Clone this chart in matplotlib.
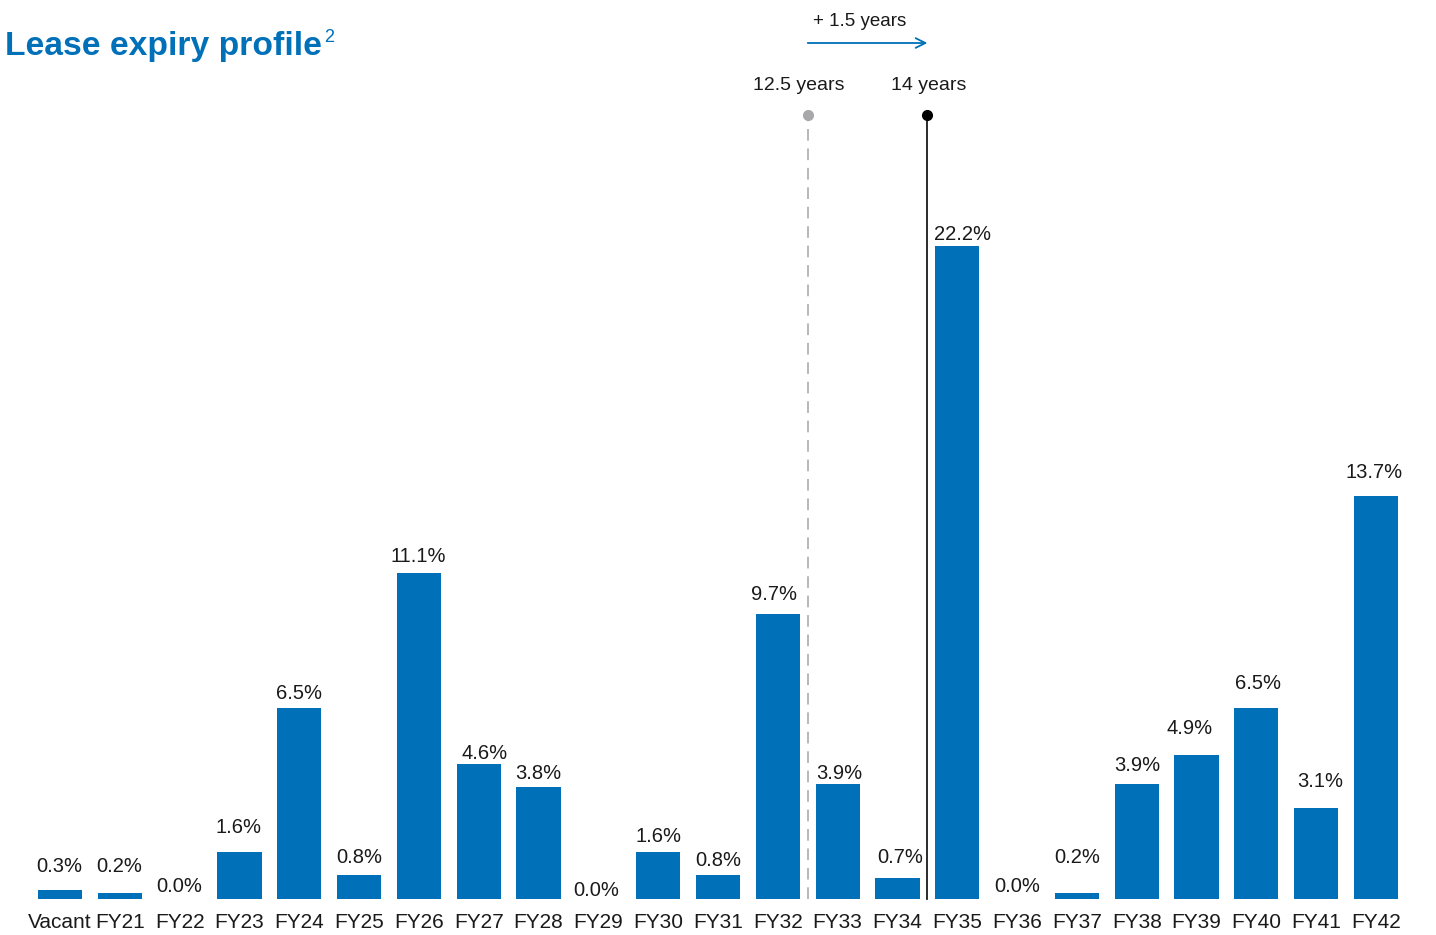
import matplotlib
matplotlib.use("Agg")
import matplotlib.pyplot as plt

categories = ["Vacant", "FY21", "FY22", "FY23", "FY24", "FY25", "FY26", "FY27", "FY28",
              "FY29", "FY30", "FY31", "FY32", "FY33", "FY34", "FY35", "FY36", "FY37",
              "FY38", "FY39", "FY40", "FY41", "FY42"]
values = [0.3, 0.2, 0.0, 1.6, 6.5, 0.8, 11.1, 4.6, 3.8, 0.0, 1.6, 0.8, 9.7, 3.9, 0.7,
          22.2, 0.0, 0.2, 3.9, 4.9, 6.5, 3.1, 13.7]
labels = ["0.3%", "0.2%", "0.0%", "1.6%", "6.5%", "0.8%", "11.1%", "4.6%", "3.8%", "0.0%",
          "1.6%", "0.8%", "9.7%", "3.9%", "0.7%", "22.2%", "0.0%", "0.2%", "3.9%", "4.9%",
          "6.5%", "3.1%", "13.7%"]
wale_before = 12.5
wale_after = 14.0

# label gap above each bar, in pixels (layout only)
label_gap_px = [24, 27, 13, 24, 14, 18, 16, 10, 14, 9, 15, 15, 19, 11, 21, 12, 13, 36,
                19, 26, 24, 26, 24]
label_dx_px = [-1, -1, 0, -1, 0, 0, -1, 6, 0, -2, 0, 0, -4, 2, 3, 5, 0, 0, 1, -7, 2, 4, -2]

BLUE = "#0070B8"
TEXT = "#1a1a1a"
plt.rcParams["font.family"] = ["Liberation Sans", "DejaVu Sans"]

W, H = 1436, 935
fig = plt.figure(figsize=(W / 100, H / 100), dpi=100)
ax = fig.add_axes([0, 0, 1, 1])
PX_X = 59.82   # pixels per category
PX_Y = 29.4    # pixels per percent
ax.set_xlim(-60 / PX_X, 22 + (W - 1376) / PX_X)
ax.set_ylim(-(H - 899) / PX_Y, 899 / PX_Y)
ax.axis("off")

x = list(range(len(categories)))
ax.bar(x, values, width=0.74, color=BLUE, zorder=2)

for xi, v, lab, cat, g, dx in zip(x, values, labels, categories, label_gap_px, label_dx_px):
    ax.text(xi + dx / PX_X, v + g / PX_Y, lab, ha="center", va="center", fontsize=14.5,
            color=TEXT)
    ax.text(xi, -23.5 / PX_Y, cat, ha="center", va="center", fontsize=15, color=TEXT)

# WALE markers: x position is the years value mapped onto the category axis
wale_before_x = wale_before
wale_after_x = wale_after + 0.5
line_top = (899 - 115) / PX_Y
ax.plot([wale_before_x, wale_before_x], [0, line_top], color="#b8b8b8", lw=1.4,
        dashes=(6, 4), zorder=1)
ax.plot([wale_before_x], [line_top], "o", color="#a8a8aa", ms=7, zorder=3)
ax.plot([wale_after_x, wale_after_x], [0, line_top], color="#1a1a1a", lw=1.3, zorder=3)
ax.plot([wale_after_x], [line_top], "o", color="#000000", ms=7, zorder=4)

ax.text(wale_before_x - 9 / PX_X, (899 - 86) / PX_Y, f"{wale_before:g} years",
        ha="center", va="center", fontsize=14, color=TEXT)
ax.text(wale_after_x + 1 / PX_X, (899 - 86) / PX_Y, f"{wale_after:g} years",
        ha="center", va="center", fontsize=14, color=TEXT)

ax.annotate("", xy=(wale_after_x, (899 - 43) / PX_Y), xytext=(wale_before_x, (899 - 43) / PX_Y),
            arrowprops=dict(arrowstyle="->,head_length=0.7,head_width=0.35",
                            color=BLUE, lw=1.3, shrinkA=0, shrinkB=0))
ax.text(wale_before_x + 52 / PX_X, (899 - 22) / PX_Y,
        f"+ {wale_after - wale_before:g} years", ha="center", va="center",
        fontsize=13.5, color=TEXT)

# title with superscript placed right after it
title = fig.text(5 / W, 1 - 46 / H, "Lease expiry profile", ha="left", va="center",
                 fontsize=24, fontweight="bold", color=BLUE)
fig.canvas.draw()
bb = title.get_window_extent()
target_w = 317
title.set_fontsize(24 * target_w / bb.width)
fig.canvas.draw()
bb = title.get_window_extent()
fig.text((bb.x1 + 2) / W, 1 - 38 / H, "2", ha="left", va="center", fontsize=13,
         color=BLUE)

fig.savefig("out.png", dpi=100, facecolor="white")
